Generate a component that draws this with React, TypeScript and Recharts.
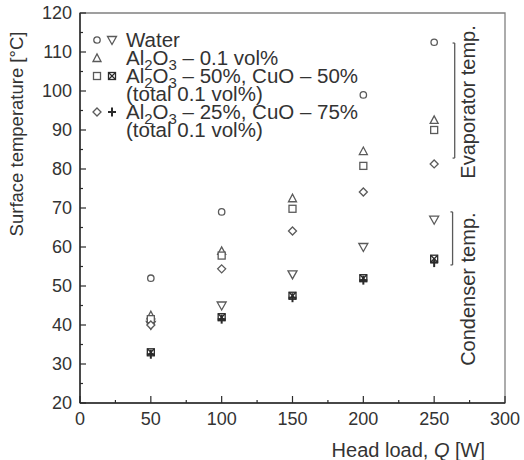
import React from 'react';
import {
  ScatterChart,
  Scatter,
  XAxis,
  YAxis,
  ReferenceArea,
  ReferenceLine,
  ReferenceDot,
  Label,
} from 'recharts';

// Heat load steps [W] and measured surface temperatures [°C]
const heatLoads = [50, 100, 150, 200, 250];
const waterEvaporator = [52, 69, null, 99, 112.5];
const waterCondenser = [40, 45, 53, 60, 67];
const aluminaEvaporator = [42.5, 59, 72.5, 84.6, 92.6];
const mix5050Evaporator = [41.5, 57.8, 69.8, 80.8, 90];
const mix5050Condenser = [33, 42, 47.5, 52, 57];
const mix2575Evaporator = [40, 54.4, 64.1, 74.1, 81.3];
const mix2575Condenser = [32.5, 41.5, 47, 51.5, 56];

const xTicks = [0, 25, 50, 75, 100, 125, 150, 175, 200, 225, 250, 275, 300];
const yTicks = [
  20, 25, 30, 35, 40, 45, 50, 55, 60, 65, 70, 75, 80, 85, 90, 95, 100, 105, 110, 115, 120,
];

const FONT = '"Liberation Sans", Arial, sans-serif';
const TEXT = '#333';
const INK = '#5a5a5a';
const DARK = '#2a2a2a';

const toPoints = (values: (number | null)[]) =>
  heatLoads
    .map((q, i) => ({ q, t: values[i] }))
    .filter((p) => p.t !== null);

type MarkProps = { cx?: number; cy?: number };

const CircleMark = ({ cx = 0, cy = 0 }: MarkProps) => (
  <circle cx={cx} cy={cy} r={3.2} fill="#fff" stroke={INK} strokeWidth={1.3} />
);

const TriangleUpMark = ({ cx = 0, cy = 0 }: MarkProps) => (
  <polygon
    points={`${cx - 4},${cy + 3.5} ${cx + 4},${cy + 3.5} ${cx},${cy - 4}`}
    fill="#fff"
    stroke={INK}
    strokeWidth={1.3}
  />
);

const TriangleDownMark = ({ cx = 0, cy = 0 }: MarkProps) => (
  <polygon
    points={`${cx - 4.5},${cy - 3.5} ${cx + 4.5},${cy - 3.5} ${cx},${cy + 4.5}`}
    fill="#fff"
    stroke={INK}
    strokeWidth={1.3}
  />
);

const SquareMark = ({ cx = 0, cy = 0 }: MarkProps) => (
  <rect x={cx - 3.5} y={cy - 3.5} width={7} height={7} fill="#fff" stroke={INK} strokeWidth={1.3} />
);

const DiamondMark = ({ cx = 0, cy = 0 }: MarkProps) => (
  <polygon
    points={`${cx},${cy - 4} ${cx + 4},${cy} ${cx},${cy + 4} ${cx - 4},${cy}`}
    fill="#fff"
    stroke={INK}
    strokeWidth={1.3}
  />
);

const BoxCrossMark = ({ cx = 0, cy = 0 }: MarkProps) => (
  <g stroke={DARK} strokeWidth={1.3} fill="none">
    <rect x={cx - 3.5} y={cy - 3.5} width={7} height={7} />
    <line x1={cx - 3.5} y1={cy - 3.5} x2={cx + 3.5} y2={cy + 3.5} />
    <line x1={cx + 3.5} y1={cy - 3.5} x2={cx - 3.5} y2={cy + 3.5} />
  </g>
);

const PlusMark = ({ cx = 0, cy = 0 }: MarkProps) => (
  <g stroke={DARK} strokeWidth={2}>
    <line x1={cx - 4} y1={cy} x2={cx + 4} y2={cy} />
    <line x1={cx} y1={cy - 4.5} x2={cx} y2={cy + 4.5} />
  </g>
);

const XTick = ({ x, y, payload }: any) => {
  const major = payload.value % 50 === 0;
  return (
    <g>
      <line x1={x} x2={x} y1={y} y2={y - (major ? 7 : 3)} stroke={DARK} strokeWidth={1.2} />
      {major && (
        <text x={x} y={y + 22} textAnchor="middle" fontSize={18} fontFamily={FONT} fill={TEXT}>
          {payload.value}
        </text>
      )}
    </g>
  );
};

const YTick = ({ x, y, payload }: any) => {
  const major = payload.value % 10 === 0;
  return (
    <g>
      <line x1={x} x2={x + (major ? 6 : 3)} y1={y} y2={y} stroke={DARK} strokeWidth={1.2} />
      {major && (
        <text x={x - 8} y={y + 6} textAnchor="end" fontSize={18} fontFamily={FONT} fill={TEXT}>
          {payload.value}
        </text>
      )}
    </g>
  );
};

const rotatedText = (text: string) => ({ viewBox }: any) => {
  const cx = viewBox.x + viewBox.width / 2;
  const cy = viewBox.y + viewBox.height / 2;
  return (
    <text
      x={cx}
      y={cy}
      transform={`rotate(-90 ${cx} ${cy})`}
      textAnchor="middle"
      dominantBaseline="central"
      fontSize={20}
      fontFamily={FONT}
      fill={TEXT}
    >
      {text}
    </text>
  );
};

const XTitle = ({ viewBox }: any) => (
  <text
    x={viewBox.x + viewBox.width - 20}
    y={viewBox.y + viewBox.height - 3}
    textAnchor="end"
    fontSize={20}
    fontFamily={FONT}
    fill={TEXT}
  >
    Head load, <tspan fontStyle="italic">Q</tspan> [W]
  </text>
);

const YTitle = ({ viewBox }: any) => {
  const cx = viewBox.x + 16;
  const cy = viewBox.y + 121;
  return (
    <text
      x={cx}
      y={cy}
      transform={`rotate(-90 ${cx} ${cy})`}
      textAnchor="middle"
      dominantBaseline="central"
      fontSize={18.5}
      fontFamily={FONT}
      fill={TEXT}
    >
      Surface temperature [°C]
    </text>
  );
};

const Sub = ({ children }: { children: React.ReactNode }) => (
  <span style={{ fontSize: 15, position: 'relative', top: 5, lineHeight: 0 }}>{children}</span>
);

const Al2O3 = () => (
  <>
    Al<Sub>2</Sub>O<Sub>3</Sub>
  </>
);

const legendRows: {
  label: React.ReactNode;
  evap?: React.FC<MarkProps>;
  cond?: React.FC<MarkProps>;
}[] = [
  { label: 'Water', evap: CircleMark, cond: TriangleDownMark },
  { label: <><Al2O3 /> – 0.1 vol%</>, evap: TriangleUpMark },
  { label: <><Al2O3 /> – 50%, CuO – 50%</>, evap: SquareMark, cond: BoxCrossMark },
  { label: '(total 0.1 vol%)' },
  { label: <><Al2O3 /> – 25%, CuO – 75%</>, evap: DiamondMark, cond: PlusMark },
  { label: '(total 0.1 vol%)' },
];

const ChartLegend = () => (
  <div
    style={{
      position: 'absolute',
      left: 88,
      top: 31,
      fontFamily: FONT,
      fontSize: 20.5,
      color: TEXT,
      lineHeight: '18px',
    }}
  >
    {legendRows.map((row, i) => {
      const Evap = row.evap;
      const Cond = row.cond;
      return (
        <div key={i} style={{ position: 'relative', height: 18, paddingLeft: 38, whiteSpace: 'nowrap' }}>
          <svg width={32} height={18} style={{ position: 'absolute', left: 0, top: 0 }}>
            {Evap && <Evap cx={9} cy={9} />}
            {Cond && <Cond cx={24} cy={9} />}
          </svg>
          {row.label}
        </div>
      );
    })}
  </div>
);

export default function App() {
  return (
    <div style={{ position: 'absolute', left: 0, top: 0, width: 524, height: 460, background: '#fff' }}>
      <ScatterChart width={524} height={460} margin={{ top: 13, right: 19, left: 0, bottom: 0 }}>
        <ReferenceArea x1={0} x2={300} y1={20} y2={120} fill="none" stroke="#808080" strokeWidth={1.3} />
        <XAxis
          type="number"
          dataKey="q"
          domain={[0, 300]}
          ticks={xTicks}
          interval={0}
          height={57}
          tickSize={0}
          tickMargin={0}
          tick={<XTick />}
          axisLine={{ stroke: DARK, strokeWidth: 1.5 }}
        >
          <Label content={<XTitle />} />
        </XAxis>
        <YAxis
          type="number"
          dataKey="t"
          domain={[20, 120]}
          ticks={yTicks}
          interval={0}
          width={80}
          tickSize={0}
          tickMargin={0}
          tick={<YTick />}
          axisLine={{ stroke: DARK, strokeWidth: 1.5 }}
        >
          <Label content={<YTitle />} />
        </YAxis>

        {/* brackets grouping evaporator and condenser readings */}
        <ReferenceLine segment={[{ x: 264.5, y: 112.3 }, { x: 264.5, y: 82.8 }]} stroke={INK} strokeWidth={1.3} />
        <ReferenceLine segment={[{ x: 263, y: 112.3 }, { x: 264.5, y: 112.3 }]} stroke={INK} strokeWidth={1.3} />
        <ReferenceLine segment={[{ x: 263, y: 82.8 }, { x: 264.5, y: 82.8 }]} stroke={INK} strokeWidth={1.3} />
        <ReferenceLine segment={[{ x: 263, y: 69 }, { x: 263, y: 55.4 }]} stroke={INK} strokeWidth={1.3} />
        <ReferenceLine segment={[{ x: 261.5, y: 69 }, { x: 263, y: 69 }]} stroke={INK} strokeWidth={1.3} />
        <ReferenceLine segment={[{ x: 261.5, y: 55.4 }, { x: 263, y: 55.4 }]} stroke={INK} strokeWidth={1.3} />
        <ReferenceDot x={274} y={97.2} r={0} fill="none" stroke="none">
          <Label content={rotatedText('Evaporator temp.')} />
        </ReferenceDot>
        <ReferenceDot x={274} y={49.2} r={0} fill="none" stroke="none">
          <Label content={rotatedText('Condenser temp.')} />
        </ReferenceDot>

        <Scatter name="Water evaporator" data={toPoints(waterEvaporator)} shape={CircleMark} isAnimationActive={false} />
        <Scatter name="Water condenser" data={toPoints(waterCondenser)} shape={TriangleDownMark} isAnimationActive={false} />
        <Scatter name="Al2O3 evaporator" data={toPoints(aluminaEvaporator)} shape={TriangleUpMark} isAnimationActive={false} />
        <Scatter name="50/50 evaporator" data={toPoints(mix5050Evaporator)} shape={SquareMark} isAnimationActive={false} />
        <Scatter name="25/75 evaporator" data={toPoints(mix2575Evaporator)} shape={DiamondMark} isAnimationActive={false} />
        <Scatter name="50/50 condenser" data={toPoints(mix5050Condenser)} shape={BoxCrossMark} isAnimationActive={false} />
        <Scatter name="25/75 condenser" data={toPoints(mix2575Condenser)} shape={PlusMark} isAnimationActive={false} />
      </ScatterChart>
      <ChartLegend />
    </div>
  );
}
